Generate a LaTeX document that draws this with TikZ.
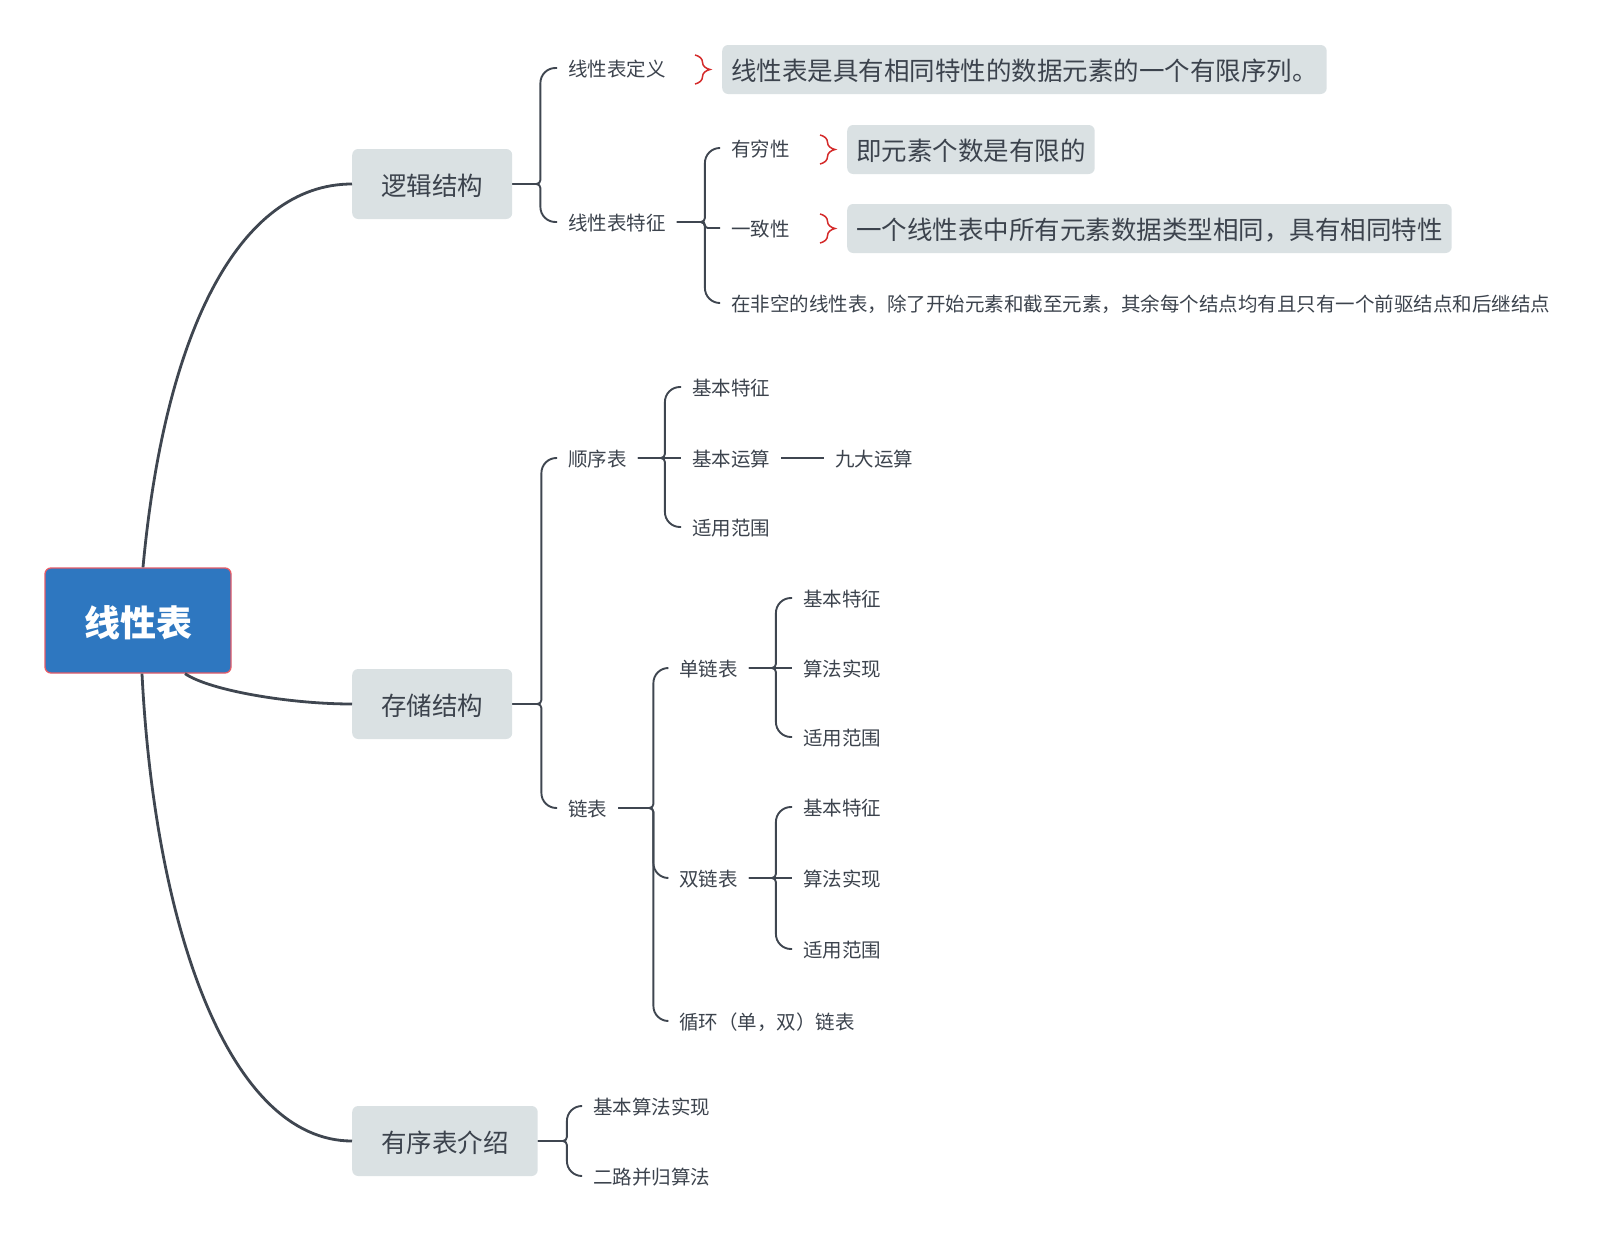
\documentclass[tikz,border=0pt]{standalone}
\usepackage{fontspec}
\setmainfont{Noto Sans CJK SC}
\usetikzlibrary{decorations.pathreplacing}
\definecolor{ink}{HTML}{3C434D}
\definecolor{linec}{HTML}{3F4650}
\definecolor{topicfill}{HTML}{DAE1E3}
\definecolor{rootfill}{HTML}{2E77C0}
\definecolor{rootborder}{HTML}{E55B67}
\definecolor{bracered}{HTML}{D42A2A}
\begin{document}
\begin{tikzpicture}[x=1pt,y=-1pt,
  leaf/.style={anchor=west, inner xsep=11pt, inner ysep=0pt, text=ink,
    font=\fontsize{19.5}{23}\selectfont, text height=18pt, text depth=1pt},
  topic/.style={anchor=west, fill=topicfill, rounded corners=6pt, minimum height=70pt,
    inner xsep=29pt, inner ysep=0pt, text=ink,
    font=\fontsize{25.5}{30}\selectfont, text height=24pt, text depth=1.2pt},
  note/.style={anchor=west, fill=topicfill, rounded corners=6pt, minimum height=49pt,
    inner xsep=9pt, inner ysep=0pt, text=ink,
    font=\fontsize{25.5}{30}\selectfont, text height=24pt, text depth=1.2pt},
  rootbox/.style={fill=rootfill, draw=rootborder, line width=1.3pt, rounded corners=6pt,
    minimum width=186pt, minimum height=105pt, text=white,
    font=\fontsize{36}{40}\selectfont\bfseries, text height=33pt, text depth=1pt},
  mainline/.style={draw=linec, line width=2.8pt},
  br/.style={draw=linec, line width=1.9pt, rounded corners=4pt},
  redbrace/.style={draw=bracered, line width=1.5pt, decorate,
    decoration={brace, amplitude=15pt}},
]
\useasboundingbox (0,0) rectangle (1607,1242);

% root and topics
\node[rootbox] (root) at (138,620.5) {线性表};
\node[topic] (logic) at (352,184) {逻辑结构};
\node[topic] (store) at (352,704) {存储结构};
\node[topic] (ord) at (352,1141) {有序表介绍};

\draw[mainline] ([xshift=5pt]root.north) .. controls +(22,-238) and +(-112,0) .. (logic.west);
\draw[mainline] ([xshift=47pt]root.south) .. controls +(25,17) and +(-62,0) .. (store.west);
\draw[mainline] ([xshift=4pt]root.south) .. controls +(13,257) and +(-122,0) .. (ord.west);

% logical structure
\node[leaf] (def) at (557,68) {线性表定义};
\node[leaf] (feat) at (557,222) {线性表特征};
\node[note] (defbox) at (722,69.5) {线性表是具有相同特性的数据元素的一个有限序列。};
\node[leaf] (fin) at (720,148) {有穷性};
\node[leaf] (cons) at (720,228) {一致性};
\node[leaf] (nonempty) at (720,303) {在非空的线性表，除了开始元素和截至元素，其余每个结点均有且只有一个前驱结点和后继结点};
\node[note] (finbox) at (847,149.5) {即元素个数是有限的};
\node[note] (consbox) at (847,228.5) {一个线性表中所有元素数据类型相同，具有相同特性};

\foreach \c in {def,feat}
  \draw[br] (logic.east) -- ++(28,0) [rounded corners=15pt] |- (\c.west);
\foreach \c in {fin,nonempty}
  \draw[br] (feat.east) -- ++(28,0) [rounded corners=15pt] |- (\c.west);
\draw[br] (feat.east) -- ++(28,0) [rounded corners=3pt] |- (cons.west);

\foreach \b in {defbox,finbox,consbox}
  \draw[redbrace] ([xshift=-27pt,yshift=14.5pt]\b.west) -- ([xshift=-27pt,yshift=-14.5pt]\b.west);

% storage structure
\node[leaf] (seq) at (557,458) {顺序表};
\node[leaf] (link) at (557,808) {链表};
\foreach \c in {seq,link}
  \draw[br] (store.east) -- ++(29,0) [rounded corners=15pt] |- (\c.west);

\node[leaf] (seqa) at (681,387) {基本特征};
\node[leaf] (seqb) at (681,458) {基本运算};
\node[leaf] (seqc) at (681,527) {适用范围};
\node[leaf] (nine) at (824,458) {九大运算};
\foreach \c in {seqa,seqc}
  \draw[br] (seq.east) -- ++(27,0) [rounded corners=15pt] |- (\c.west);
\draw[br] (seq.east) -- (seqb.west);
\draw[br] (seqb.east) -- (nine.west);

\node[leaf] (single) at (668,668) {单链表};
\node[leaf] (double) at (668,878) {双链表};
\node[leaf] (circ) at (668,1021) {循环（单，双）链表};
\foreach \c in {single,double,circ}
  \draw[br] (link.east) -- ++(35,0) [rounded corners=15pt] |- (\c.west);

\node[leaf] (sa) at (792,598) {基本特征};
\node[leaf] (sb) at (792,668) {算法实现};
\node[leaf] (sc) at (792,737) {适用范围};
\foreach \c in {sa,sc}
  \draw[br] (single.east) -- ++(27,0) [rounded corners=15pt] |- (\c.west);
\draw[br] (single.east) -- (sb.west);

\node[leaf] (da) at (792,807) {基本特征};
\node[leaf] (db) at (792,878) {算法实现};
\node[leaf] (dc) at (792,949) {适用范围};
\foreach \c in {da,dc}
  \draw[br] (double.east) -- ++(27,0) [rounded corners=15pt] |- (\c.west);
\draw[br] (double.east) -- (db.west);

% ordered list
\node[leaf] (oa) at (582,1106) {基本算法实现};
\node[leaf] (ob) at (582,1176) {二路并归算法};
\foreach \c in {oa,ob}
  \draw[br] (ord.east) -- ++(29,0) [rounded corners=15pt] |- (\c.west);
\end{tikzpicture}
\end{document}
